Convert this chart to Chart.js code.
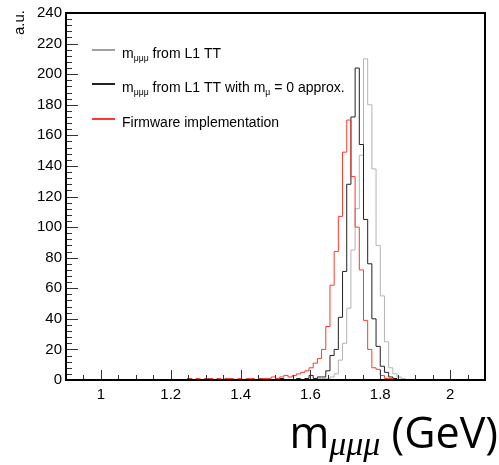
<!DOCTYPE html>
<html>
<head>
<meta charset="utf-8">
<script src="https://cdn.jsdelivr.net/npm/chart.js@4.4.0/dist/chart.umd.min.js"></script>
<style>
  html, body { margin: 0; padding: 0; background: #fff; }
</style>
</head>
<body>
<canvas id="massChart" width="499" height="465"></canvas>
<script>
// histogram binning: 100 bins of 12 MeV between 0.9 and 2.1 GeV
const xLow = 0.9;
const xHigh = 2.1;
const binWidth = 0.012;

const xTickLabels = [1, 1.2, 1.4, 1.6, 1.8, 2];
const yTickLabels = [0, 20, 40, 60, 80, 100, 120, 140, 160, 180, 200, 220, 240];

// m_uuu from L1 TT
const grayVals = [
  0, 0, 0, 0, 0, 0, 0, 0, 0, 0,
  0, 0, 0, 0, 0, 0, 0, 0, 0, 0,
  0, 0, 0, 0, 0, 0, 0, 0, 0, 0,
  0, 0, 0, 0, 0, 0, 0, 0, 0, 0,
  0, 0, 0, 0, 0, 0, 0, 0, 0, 0,
  0, 0, 0, 0, 0, 0, 0, 0, 0, 0,
  0, 1, 1, 1, 2, 4, 13, 24, 47, 85,
  112, 147, 210, 180, 138, 88, 55, 25, 8, 4,
  2, 1, 0, 0, 0, 0, 0, 0, 0, 0,
  0, 0, 0, 0, 0, 0, 0, 0, 0, 0
];

// m_uuu from L1 TT with m_u = 0 approx.
const blackVals = [
  0, 0, 0, 0, 0, 0, 0, 0, 0, 0,
  0, 0, 0, 0, 0, 0, 0, 0, 0, 0,
  0, 0, 0, 0, 0, 0, 0, 0, 0, 0,
  1, 0, 0, 0, 0, 1, 0, 0, 0, 1,
  0, 0, 0, 0, 0, 0, 0, 1, 0, 0,
  0, 0, 1, 0, 0, 0, 1, 0, 1, 3,
  1, 2, 2, 6, 16, 20, 41, 71, 128, 172,
  204, 154, 105, 76, 40, 22, 9, 5, 2, 1,
  0, 0, 0, 0, 0, 0, 0, 0, 0, 0,
  0, 0, 0, 0, 0, 0, 0, 0, 0, 0
];

// Firmware implementation
const redVals = [
  0, 0, 0, 0, 0, 0, 0, 0, 0, 0,
  0, 0, 0, 0, 0, 0, 0, 0, 0, 0,
  0, 0, 0, 0, 0, 0, 0, 0, 0, 0,
  1, 0, 1, 0, 1, 1, 0, 1, 0, 1,
  1, 0, 1, 0, 1, 1, 0, 1, 1, 1,
  2, 1, 2, 3, 2, 3, 4, 5, 6, 8,
  11, 14, 20, 35, 62, 84, 107, 149, 170, 133,
  100, 72, 39, 20, 8, 7, 3, 1, 1, 0,
  0, 0, 0, 0, 0, 0, 0, 0, 0, 0,
  0, 0, 0, 0, 0, 0, 0, 0, 0, 0
];

// legend text pieces, sub = drawn as subscript
const grayLabel = [{ t: 'm' }, { t: 'μμμ', sub: true }, { t: ' from L1 TT' }];
const blackLabel = [{ t: 'm' }, { t: 'μμμ', sub: true }, { t: ' from L1 TT with m' }, { t: 'μ', sub: true }, { t: ' = 0 approx.' }];
const redLabel = [{ t: 'Firmware implementation' }];

const grayColor = '#b4b4b4';
const blackColor = '#222222';
const redColor = '#ff3a2a';

const FONT = '"Liberation Sans", Arial, sans-serif';

function toSteps(vals) {
  const pts = vals.map((v, i) => ({ x: xLow + i * binWidth, y: v }));
  pts.push({ x: xHigh, y: vals[vals.length - 1] });
  return pts;
}

// frame with inward ticks, like a ROOT canvas
const frameTicks = {
  id: 'frameTicks',
  afterDatasetsDraw(chart) {
    const { ctx, chartArea: a, scales } = chart;
    const x = scales.x, y = scales.y;
    ctx.save();
    ctx.strokeStyle = '#333';
    ctx.lineWidth = 1;
    ctx.beginPath();
    for (let v = 0; v <= 240; v += 4) {
      const py = Math.round(y.getPixelForValue(v)) + 0.5;
      const len = v % 20 === 0 ? 12 : 6;
      ctx.moveTo(a.left, py);
      ctx.lineTo(a.left + len, py);
    }
    for (let k = 0; k <= 24; k++) {
      const v = xLow + k * 0.05;
      const px = Math.round(x.getPixelForValue(v)) + 0.5;
      const major = xTickLabels.some(t => Math.abs(t - v) < 1e-6);
      ctx.moveTo(px, a.bottom);
      ctx.lineTo(px, a.bottom - (major ? 10 : 5));
    }
    ctx.stroke();
    ctx.strokeStyle = '#000';
    ctx.lineWidth = 2;
    ctx.strokeRect(a.left, a.top, a.right - a.left, a.bottom - a.top);
    ctx.restore();
  }
};

function drawPieces(ctx, pieces, x, y, size) {
  for (const p of pieces) {
    if (p.sub) {
      ctx.font = (size * 0.62) + 'px ' + FONT;
      ctx.fillText(p.t, x, y + size * 0.22);
    } else {
      ctx.font = size + 'px ' + FONT;
      ctx.fillText(p.t, x, y);
    }
    x += ctx.measureText(p.t).width;
  }
}

const legendBox = {
  id: 'legendBox',
  afterDraw(chart) {
    const ctx = chart.ctx;
    const rows = [
      [grayLabel, '#a0a0a0', 50],
      [blackLabel, '#222', 84],
      [redLabel, redColor, 119]
    ];
    ctx.save();
    ctx.textBaseline = 'alphabetic';
    for (const [pieces, col, ly] of rows) {
      ctx.strokeStyle = col;
      ctx.lineWidth = 2;
      ctx.beginPath();
      ctx.moveTo(92, ly);
      ctx.lineTo(115, ly);
      ctx.stroke();
      ctx.fillStyle = '#000';
      drawPieces(ctx, pieces, 122, ly + 8, 14);
    }
    ctx.restore();
  }
};

const axisTitles = {
  id: 'axisTitles',
  afterDraw(chart) {
    const ctx = chart.ctx;
    ctx.save();
    ctx.fillStyle = '#000';
    ctx.font = '15px ' + FONT;
    ctx.translate(20, 10);
    ctx.rotate(-Math.PI / 2);
    ctx.textAlign = 'right';
    ctx.textBaseline = 'middle';
    ctx.fillText('a.u.', 0, 0);
    ctx.restore();

    ctx.save();
    ctx.fillStyle = '#000';
    ctx.textBaseline = 'alphabetic';
    const big = '43px "Open Sans", sans-serif';
    const sub = 'italic 34px "Liberation Serif", serif';
    ctx.font = big;
    const w1 = ctx.measureText('m').width;
    const w3 = ctx.measureText(' (GeV)').width;
    ctx.font = sub;
    const w2 = ctx.measureText('μμμ').width;
    let x = 498 - (w1 + w2 + w3);
    ctx.font = big;
    ctx.fillText('m', x, 448);
    x += w1;
    ctx.font = sub;
    ctx.fillText('μμμ', x, 455);
    x += w2;
    ctx.font = big;
    ctx.fillText(' (GeV)', x, 448);
    ctx.restore();
  }
};

new Chart(document.getElementById('massChart'), {
  type: 'line',
  data: {
    datasets: [
      { label: 'Firmware implementation', data: toSteps(redVals), borderColor: redColor, order: 1 },
      { label: 'm from L1 TT with m = 0 approx.', data: toSteps(blackVals), borderColor: blackColor, order: 2 },
      { label: 'm from L1 TT', data: toSteps(grayVals), borderColor: grayColor, order: 3 }
    ].map(d => Object.assign(d, { borderWidth: 1, stepped: 'after', pointRadius: 0, fill: false, clip: false }))
  },
  options: {
    responsive: false,
    animation: false,
    devicePixelRatio: 1,
    layout: { padding: { left: 0, right: 14, top: 12, bottom: 55 } },
    plugins: { legend: { display: false }, tooltip: { enabled: false } },
    scales: {
      x: {
        type: 'linear',
        min: xLow,
        max: xHigh,
        afterBuildTicks: s => { s.ticks = xTickLabels.map(v => ({ value: v })); },
        afterFit: s => { s.height = 30; },
        grid: { display: false, drawTicks: false },
        border: { display: false },
        ticks: { color: '#000', font: { family: FONT, size: 15 }, padding: 6, maxRotation: 0, callback: v => String(v) }
      },
      y: {
        min: 0,
        max: 240,
        afterBuildTicks: s => { s.ticks = yTickLabels.map(v => ({ value: v })); },
        afterFit: s => { s.width = 66; },
        grid: { display: false, drawTicks: false },
        border: { display: false },
        ticks: { color: '#000', font: { family: FONT, size: 15 }, padding: 4 }
      }
    }
  },
  plugins: [frameTicks, legendBox, axisTitles]
});
</script>
</body>
</html>
